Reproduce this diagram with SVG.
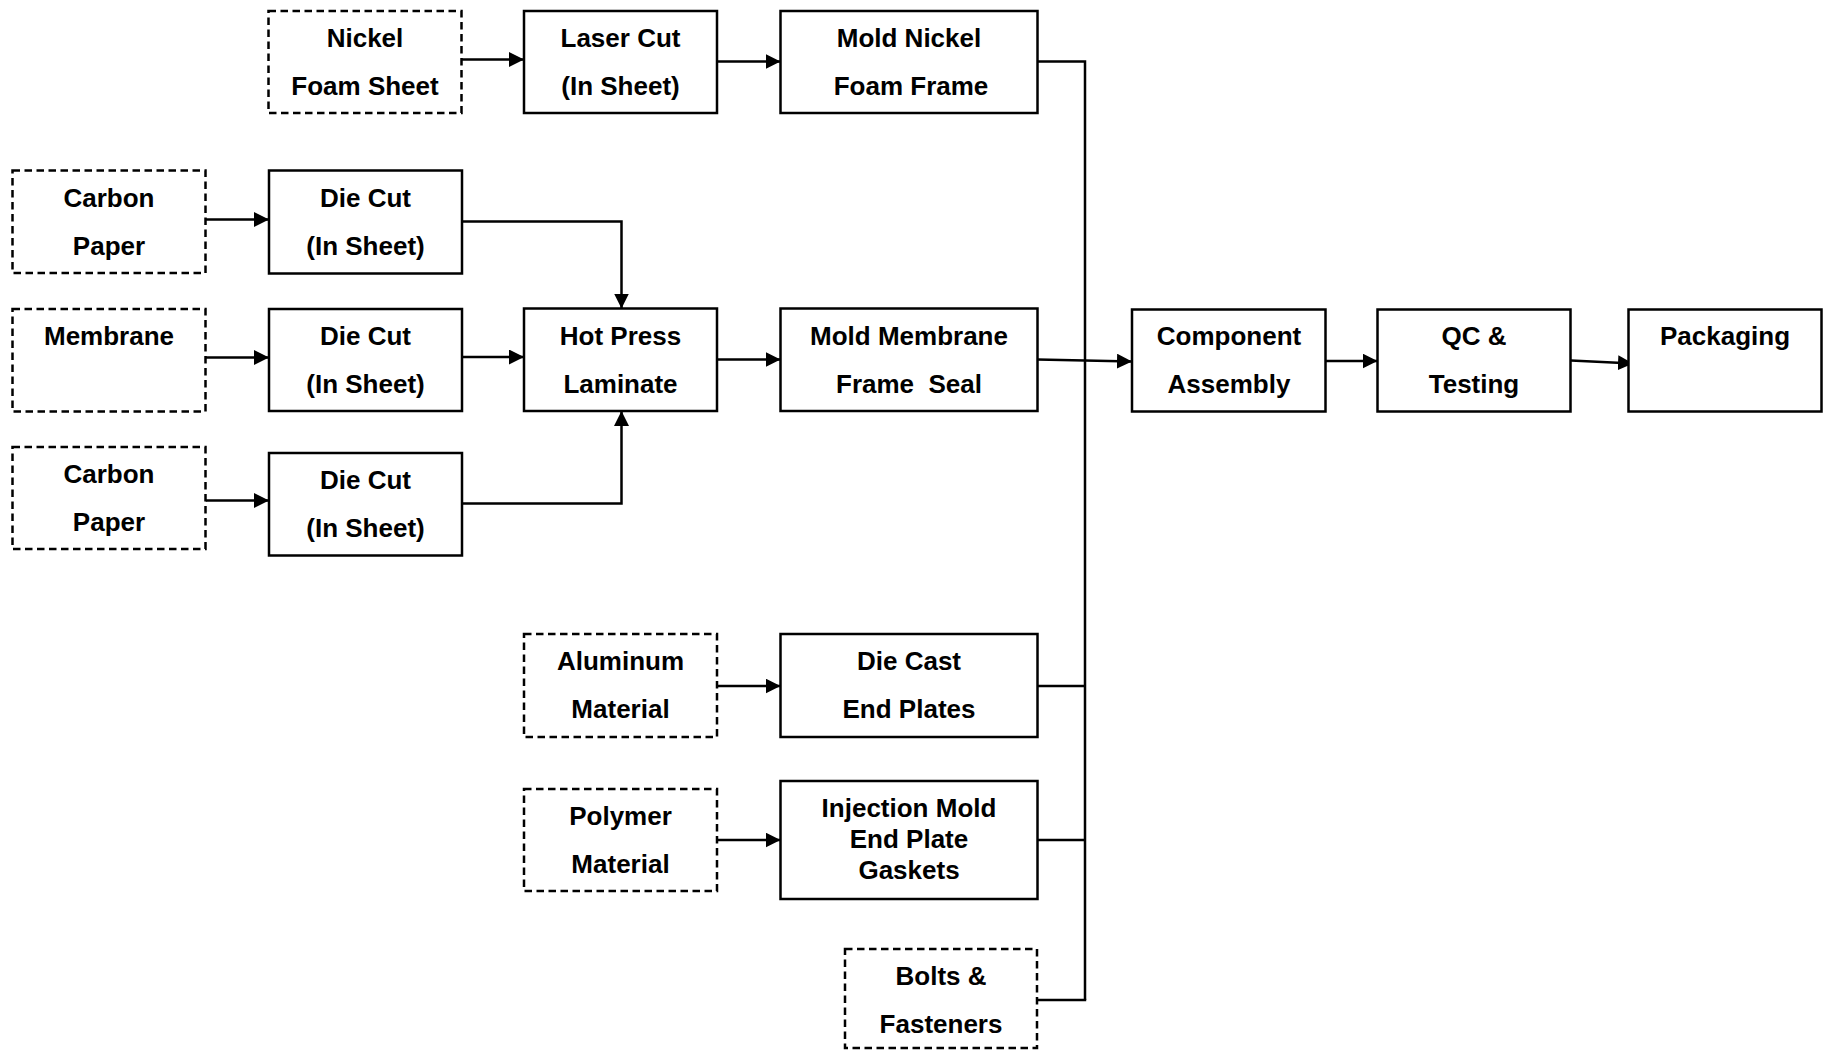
<svg xmlns="http://www.w3.org/2000/svg" width="1825" height="1051" viewBox="0 0 1825 1051">
  <style>
    .box { fill: #ffffff; stroke: #000000; stroke-width: 2.5; }
    .raw { fill: #ffffff; stroke: #000000; stroke-width: 2.5; stroke-dasharray: 7.5 4.5; }
    .lbl { font-family: "Liberation Sans", Arial, Helvetica, sans-serif; font-weight: bold; font-size: 26px; fill: #000000; text-anchor: middle; white-space: pre; }
    .link { fill: none; stroke: #000000; stroke-width: 2.5; }
    .arrow { fill: none; stroke: #000000; stroke-width: 2.5; marker-end: url(#head); }
  </style>
  <defs>
    <marker id="head" markerUnits="userSpaceOnUse" markerWidth="16" markerHeight="16" refX="15" refY="7.5" orient="auto">
      <path d="M0,0 L15,7.5 L0,15 z" fill="#000000"/>
    </marker>
  </defs>
  <rect width="1825" height="1051" fill="#ffffff"/>

  <!-- connectors -->
  <g id="connectors">
    <path class="arrow" d="M462,59.5 H524"/>
    <path class="arrow" d="M717,61.5 H780.5"/>
    <path class="link" d="M1037.5,61.5 H1085 V1000"/>
    <path class="arrow" d="M205.5,219.5 H269"/>
    <path class="arrow" d="M462,221.5 H621.5 V308.5"/>
    <path class="arrow" d="M205.5,357.5 H269"/>
    <path class="arrow" d="M462,357 H524"/>
    <path class="arrow" d="M205.5,500.5 H269"/>
    <path class="arrow" d="M462,503.5 H621.5 V411"/>
    <path class="arrow" d="M717,359.5 H780.5"/>
    <path class="arrow" d="M1037.5,359.5 L1132,361.5"/>
    <path class="arrow" d="M717,686 H780.5"/>
    <path class="link" d="M1037.5,686 H1085"/>
    <path class="arrow" d="M717,840 H780.5"/>
    <path class="link" d="M1037.5,840 H1085"/>
    <path class="link" d="M1037,1000 H1086.2"/>
    <path class="arrow" d="M1325.5,361 H1377.5"/>
    <path class="arrow" d="M1571,360.5 L1633,363.5"/>
  </g>

  <!-- raw material inputs -->
  <g id="nickel-foam-sheet">
    <rect class="raw" x="268.5" y="11" width="193" height="102"/>
    <text class="lbl" x="365" y="47">Nickel</text>
    <text class="lbl" x="365" y="95">Foam Sheet</text>
  </g>
  <g id="carbon-paper-1">
    <rect class="raw" x="12.5" y="170.5" width="193" height="102.5"/>
    <text class="lbl" x="109" y="206.5">Carbon</text>
    <text class="lbl" x="109" y="254.5">Paper</text>
  </g>
  <g id="membrane">
    <rect class="raw" x="12.5" y="309" width="193" height="102.5"/>
    <text class="lbl" x="109" y="345">Membrane</text>
  </g>
  <g id="carbon-paper-2">
    <rect class="raw" x="12.5" y="447" width="193" height="102"/>
    <text class="lbl" x="109" y="483">Carbon</text>
    <text class="lbl" x="109" y="531">Paper</text>
  </g>
  <g id="aluminum-material">
    <rect class="raw" x="524" y="634" width="193" height="103"/>
    <text class="lbl" x="620.5" y="670">Aluminum</text>
    <text class="lbl" x="620.5" y="718">Material</text>
  </g>
  <g id="polymer-material">
    <rect class="raw" x="524" y="789" width="193" height="102"/>
    <text class="lbl" x="620.5" y="825">Polymer</text>
    <text class="lbl" x="620.5" y="873">Material</text>
  </g>
  <g id="bolts-fasteners">
    <rect class="raw" x="845" y="949" width="192" height="99"/>
    <text class="lbl" x="941" y="985">Bolts &amp;</text>
    <text class="lbl" x="941" y="1033">Fasteners</text>
  </g>

  <!-- process steps -->
  <g id="laser-cut">
    <rect class="box" x="524" y="11" width="193" height="102"/>
    <text class="lbl" x="620.5" y="47">Laser Cut</text>
    <text class="lbl" x="620.5" y="95">(In Sheet)</text>
  </g>
  <g id="mold-nickel-foam-frame">
    <rect class="box" x="780.5" y="11" width="257" height="102"/>
    <text class="lbl" x="909" y="47">Mold Nickel</text>
    <text class="lbl" x="911" y="95">Foam Frame</text>
  </g>
  <g id="die-cut-1">
    <rect class="box" x="269" y="170.5" width="193" height="103"/>
    <text class="lbl" x="365.5" y="206.5">Die Cut</text>
    <text class="lbl" x="365.5" y="254.5">(In Sheet)</text>
  </g>
  <g id="die-cut-2">
    <rect class="box" x="269" y="309" width="193" height="102"/>
    <text class="lbl" x="365.5" y="345">Die Cut</text>
    <text class="lbl" x="365.5" y="393">(In Sheet)</text>
  </g>
  <g id="die-cut-3">
    <rect class="box" x="269" y="453" width="193" height="102.5"/>
    <text class="lbl" x="365.5" y="489">Die Cut</text>
    <text class="lbl" x="365.5" y="537">(In Sheet)</text>
  </g>
  <g id="hot-press-laminate">
    <rect class="box" x="524" y="308.5" width="193" height="102.5"/>
    <text class="lbl" x="620.5" y="344.5">Hot Press</text>
    <text class="lbl" x="620.5" y="392.5">Laminate</text>
  </g>
  <g id="mold-membrane-frame-seal">
    <rect class="box" x="780.5" y="308.5" width="257" height="102.5"/>
    <text class="lbl" x="909" y="344.5">Mold Membrane</text>
    <text class="lbl" x="909" y="392.5">Frame  Seal</text>
  </g>
  <g id="die-cast-end-plates">
    <rect class="box" x="780.5" y="634" width="257" height="103"/>
    <text class="lbl" x="909" y="670">Die Cast</text>
    <text class="lbl" x="909" y="718">End Plates</text>
  </g>
  <g id="injection-mold-gaskets">
    <rect class="box" x="780.5" y="781" width="257" height="118"/>
    <text class="lbl" x="909" y="816.5">Injection Mold</text>
    <text class="lbl" x="909" y="847.5">End Plate</text>
    <text class="lbl" x="909" y="879">Gaskets</text>
  </g>
  <g id="component-assembly">
    <rect class="box" x="1132" y="309.5" width="193.5" height="102"/>
    <text class="lbl" x="1229" y="345">Component</text>
    <text class="lbl" x="1229" y="393">Assembly</text>
  </g>
  <g id="qc-testing">
    <rect class="box" x="1377.5" y="309.5" width="193" height="102"/>
    <text class="lbl" x="1474" y="345">QC &amp;</text>
    <text class="lbl" x="1474" y="393">Testing</text>
  </g>
  <g id="packaging">
    <rect class="box" x="1628.5" y="309.5" width="193" height="102"/>
    <text class="lbl" x="1725" y="344.5">Packaging</text>
  </g>
</svg>
